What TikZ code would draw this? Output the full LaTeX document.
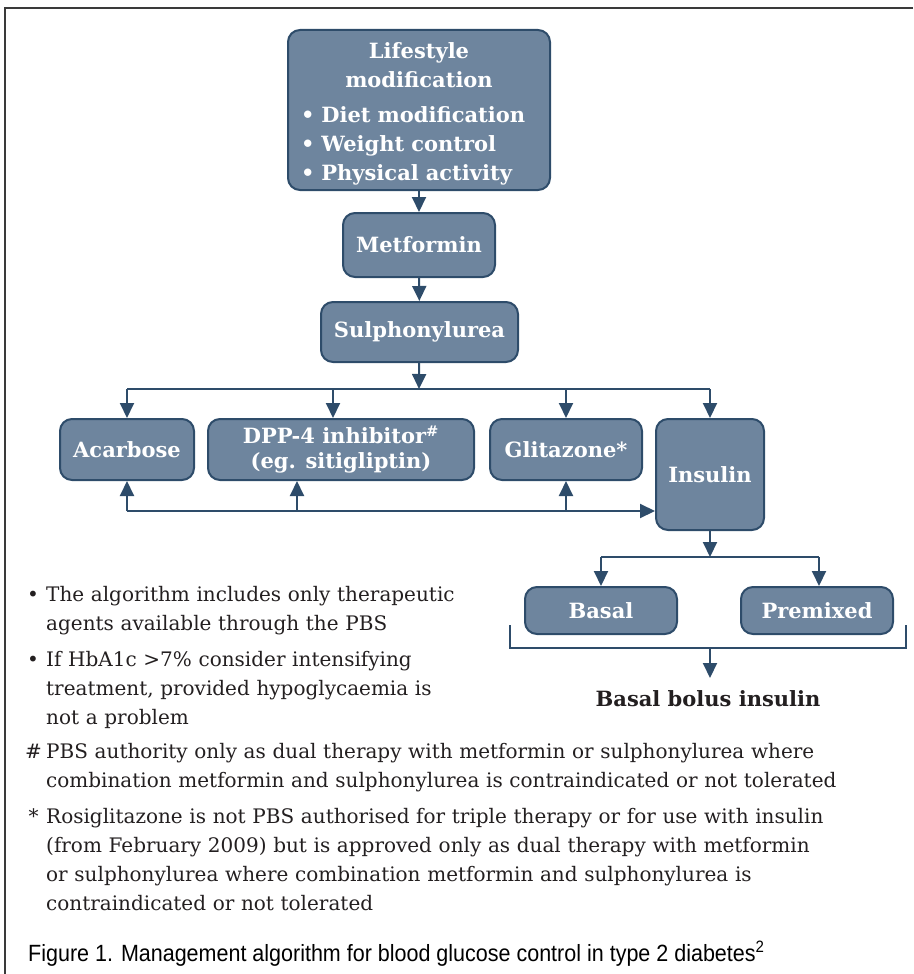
\documentclass[tikz,border=0pt]{standalone}
\usepackage{fontspec}
\setmainfont{DejaVu Serif}
\newfontfamily\capfont[FakeStretch=0.915]{Liberation Sans}
\usetikzlibrary{arrows.meta}
\definecolor{slatefill}{HTML}{6E859E}
\definecolor{slateline}{HTML}{2E4C6A}
\definecolor{inkgrey}{HTML}{231F20}
\definecolor{framegrey}{HTML}{3A3A3A}

\tikzset{
  algobox/.style={fill=slatefill, draw=slateline, line width=2pt, rounded corners=12pt, text=white, font=\fontsize{21}{25}\selectfont\bfseries, align=center, inner sep=0pt},
  flowline/.style={draw=slateline, line width=2pt},
  flowarrow/.style={flowline, -{Triangle[length=15pt,width=14pt]}},
  notetext/.style={text=inkgrey, font=\fontsize{20}{29}\selectfont, anchor=north west, align=left, inner sep=0pt, text width=870pt}
}

\begin{document}
\begin{tikzpicture}[x=1pt, y=-1pt]
  \useasboundingbox (0,0) rectangle (913,974);
  \draw[framegrey, line width=1.5pt] (913,8) -- (5,8) -- (5,974);

  \node[algobox, minimum width=262pt, minimum height=160pt, text width=236pt, align=left, font=\fontsize{21}{29}\selectfont\bfseries]
  (lifestyle) at (419,110) {\centering\rule{0pt}{24pt}Lifestyle\\modification\par\vspace{6pt}\raggedright
    \textbullet\ Diet modification\\\textbullet\ Weight control\\\textbullet\ Physical activity};
  \node[algobox, minimum width=152pt, minimum height=64pt] (metformin) at (419,245) {Metformin};
  \node[algobox, minimum width=197pt, minimum height=60pt] (sulpho) at (419.5,332) {Sulphonylurea};

  \node[algobox, minimum width=134pt, minimum height=61pt] (acarbose) at (127,449.5) {Acarbose};
  \node[algobox, minimum width=266pt, minimum height=61pt] (dpp) at (341,449.5) {DPP-4 inhibitor\textsuperscript{\#}\\(eg. sitigliptin)};
  \node[algobox, minimum width=152pt, minimum height=61pt] (glitazone) at (566,449.5) {Glitazone*};
  \node[algobox, minimum width=108pt, minimum height=111pt] (insulin) at (710,474.5) {Insulin};

  \node[algobox, minimum width=152pt, minimum height=47pt] (basal) at (601,610.5) {Basal};
  \node[algobox, minimum width=152pt, minimum height=47pt] (premixed) at (817,610.5) {Premixed};
  \node[text=inkgrey, font=\fontsize{21}{25}\selectfont\bfseries, inner sep=0pt] (bolus) at (708,699) {Basal bolus insulin};

  \coordinate (topsplit) at (419,389);
  \coordinate (botjoin) at (127,511);
  \coordinate (insplit) at (710,557);
  \coordinate (brackl) at (510,625);
  \coordinate (brackr) at (906,625);
  \coordinate (brackm) at (710,648);
  \coordinate (bolustip) at (710,678);

  \draw[flowarrow] (lifestyle) -- (metformin);
  \draw[flowarrow] (metformin) -- (sulpho);
  \draw[flowarrow] (sulpho) -- (topsplit);
  \draw[flowline] (acarbose.north |- topsplit) -- (insulin.north |- topsplit);
  \draw[flowarrow] (acarbose.north |- topsplit) -- (acarbose.north);
  \draw[flowarrow] ([xshift=-8pt]dpp.north |- topsplit) -- ([xshift=-8pt]dpp.north);
  \draw[flowarrow] (glitazone.north |- topsplit) -- (glitazone.north);
  \draw[flowarrow] (insulin.north |- topsplit) -- (insulin.north);

  \draw[flowarrow] (botjoin) -- (insulin.west |- botjoin);
  \draw[flowarrow] (botjoin) -- (acarbose.south);
  \draw[flowarrow] ([xshift=-44pt]dpp.south |- botjoin) -- ([xshift=-44pt]dpp.south);
  \draw[flowarrow] (glitazone.south |- botjoin) -- (glitazone.south);

  \draw[flowarrow] (insulin) -- (insplit);
  \draw[flowline] (basal.north |- insplit) -- ([xshift=2pt]premixed.north |- insplit);
  \draw[flowarrow] (basal.north |- insplit) -- (basal.north);
  \draw[flowarrow] ([xshift=2pt]premixed.north |- insplit) -- ([xshift=2pt]premixed.north);

  \draw[flowline] (brackl) |- (brackm) -| (brackr);
  \draw[flowarrow] (brackm) -- (bolustip);

  \node[notetext] (note1) at (27,586) {\makebox[19pt][l]{\textbullet}The algorithm includes only therapeutic\\\hspace*{19pt}agents available through the PBS};
  \node[notetext] (note2) at (27,651) {\makebox[19pt][l]{\textbullet}If HbA1c >7\% consider intensifying\\\hspace*{19pt}treatment, provided hypoglycaemia is\\\hspace*{19pt}not a problem};
  \node[notetext] (note3) at (25,743) {\makebox[21pt][l]{\#}PBS authority only as dual therapy with metformin or sulphonylurea where\\\hspace*{21pt}combination metformin and sulphonylurea is contraindicated or not tolerated};
  \node[notetext] (note4) at (25,808) {\makebox[21pt][l]{\,*}Rosiglitazone is not PBS authorised for triple therapy or for use with insulin\\\hspace*{21pt}(from February 2009) but is approved only as dual therapy with metformin\\\hspace*{21pt}or sulphonylurea where combination metformin and sulphonylurea is\\\hspace*{21pt}contraindicated or not tolerated};

  \node[text=black, font=\capfont\fontsize{23.5}{27}\selectfont, anchor=north west, inner sep=0pt] (caption) at (28,941)
  {Figure 1. Management algorithm for blood glucose control in type 2 diabetes\textsuperscript{2}};
\end{tikzpicture}
\end{document}
